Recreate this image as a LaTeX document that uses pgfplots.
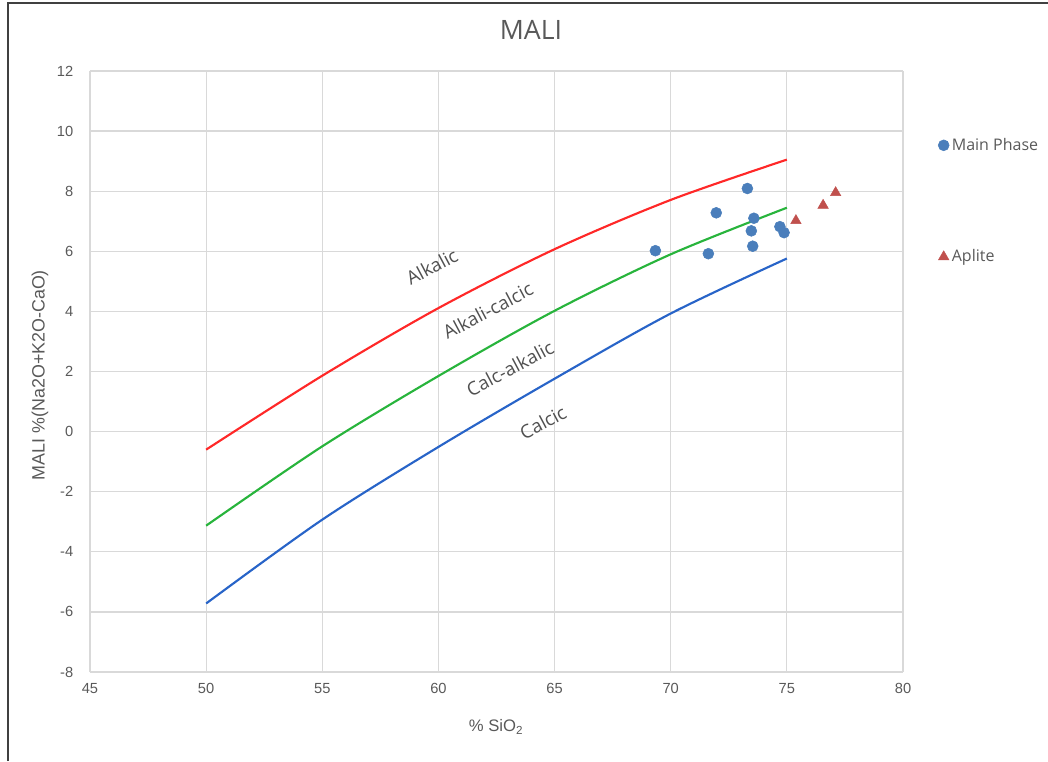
\documentclass[border=0pt]{standalone}
\usepackage{pgfplots}
\pgfplotsset{compat=1.18}
\usepackage{fontspec}
\setmainfont{Liberation Sans}
\newfontfamily\osans{Open Sans}
\definecolor{gridgray}{RGB}{217,217,217}
\definecolor{labelgray}{RGB}{89,89,89}
\definecolor{curvegray}{RGB}{80,80,80}
\definecolor{mainblue}{RGB}{74,126,187}
\definecolor{apred}{RGB}{192,80,77}
\definecolor{lred}{RGB}{255,40,40}
\definecolor{lgreen}{RGB}{40,180,60}
\definecolor{lblue}{RGB}{40,100,200}
\begin{document}
\begin{tikzpicture}
\useasboundingbox (-67.5pt,-66.75pt) rectangle (718.5pt,504pt);
\draw[black!75, line width=1pt] (-61.5pt,-66.75pt) -- (-61.5pt,501.75pt) -- (718.5pt,501.75pt);
\begin{axis}[
  at={(0pt,0pt)}, anchor=south west,
  scale only axis, width=609.75pt, height=450.75pt,
  xmin=45, xmax=80, ymin=-8, ymax=12,
  xtick={45,50,55,60,65,70,75,80}, ytick={-8,-6,-4,-2,0,2,4,6,8,10,12},
  grid=major, major grid style={color=gridgray, line width=0.9pt},
  axis line style={draw=none}, major tick style={draw=none},
  /pgf/number format/assume math mode=true,
  ticklabel style={font=\fontsize{11}{13}\selectfont, text=labelgray},
  yticklabel style={xshift=-9pt},
  xticklabel style={yshift=-5pt},
  title={\osans MALI},
  title style={at={(0.5424,1)}, anchor=center, yshift=25pt, font=\fontsize{20}{24}\selectfont, text=labelgray},
  xlabel={\% SiO\textsubscript{2}},
  xlabel style={at={(0.4994,0)}, anchor=center, yshift=-41pt, font=\fontsize{12.5}{15}\selectfont, text=labelgray},
  ylabel={MALI \%(Na2O+K2O-CaO)},
  ylabel style={at={(axis description cs:-0.0615,0.494)}, anchor=center, font=\fontsize{13.4}{16}\selectfont, text=labelgray},
  legend style={at={(1.043,0.893)}, anchor=north west, draw=none, fill=none,
    font=\osans\fontsize{12}{14}\selectfont, text=labelgray, row sep=69pt, inner sep=0pt,
    cells={anchor=west}},
  legend image code/.code={\draw[#1] plot coordinates {(3.5pt,0pt)};},
]
\addplot[lred, line width=1.6pt, smooth, forget plot] coordinates {
(50,-0.60) (55,1.86) (60,4.11) (65,6.07) (70,7.71) (75,9.05)};
\addplot[lgreen, line width=1.6pt, smooth, forget plot] coordinates {
(50,-3.13) (55,-0.49) (60,1.85) (65,4.02) (70,5.90) (75,7.45)};
\addplot[lblue, line width=1.6pt, smooth, forget plot] coordinates {
(50,-5.72) (55,-2.93) (60,-0.51) (65,1.76) (70,3.93) (75,5.76)};
\addplot[only marks, mark=*, mark size=4.1pt, color=mainblue, mark options={draw=mainblue, fill=mainblue}] coordinates {
(69.34,6.02) (71.62,5.92) (71.96,7.28) (73.30,8.09) (73.58,7.10)
(73.47,6.68) (73.53,6.17) (74.70,6.82) (74.88,6.62)};
\addlegendentry{Main Phase}
\addplot[only marks, mark=triangle*, mark size=4.5pt, color=apred, mark options={draw=apred, fill=apred}] coordinates {
(75.39,7.02) (76.56,7.53) (77.10,7.95)};
\addlegendentry{Aplite}
\node[rotate=28, text=curvegray, font=\osans\fontsize{14}{16}\selectfont] at (axis cs:59.72,5.49) {Alkalic};
\node[rotate=28, text=curvegray, font=\osans\fontsize{14}{16}\selectfont] at (axis cs:62.13,4.03) {Alkali-calcic};
\node[rotate=28, text=curvegray, font=\osans\fontsize{14}{16}\selectfont] at (axis cs:63.08,2.10) {Calc-alkalic};
\node[rotate=28, text=curvegray, font=\osans\fontsize{14}{16}\selectfont] at (axis cs:64.50,0.30) {Calcic};
\end{axis}
\end{tikzpicture}
\end{document}
